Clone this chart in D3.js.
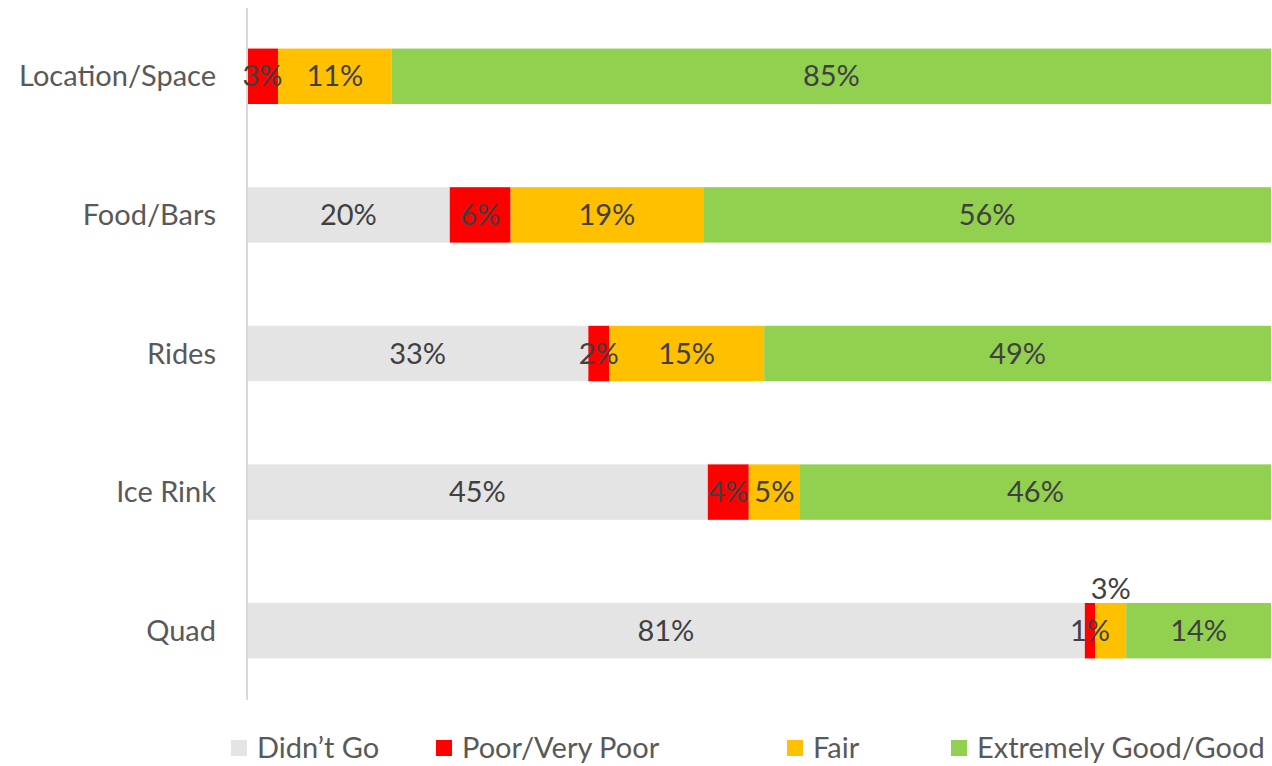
<!DOCTYPE html>
<html>
<head>
<meta charset="utf-8">
<script src="https://cdn.jsdelivr.net/npm/d3@7"></script>
<style>
  html, body { margin: 0; padding: 0; background: #fff; }
  svg { display: block; }
  text { font-family: "Lato", "Open Sans", sans-serif; }
</style>
</head>
<body>
<svg id="chart" width="1272" height="766"></svg>
<script>
// Survey ratings per attraction (percent of respondents)
const categories = ["Location/Space", "Food/Bars", "Rides", "Ice Rink", "Quad"];
const seriesNames = ["Didn't Go", "Poor/Very Poor", "Fair", "Extremely Good/Good"];
const legendLabels = ["Didn\u2019t Go", "Poor/Very Poor", "Fair", "Extremely Good/Good"];
const didntGo   = [0, 20, 33, 45, 81];
const poor      = [3, 6, 2, 4, 1];
const fair      = [11, 19, 15, 5, 3];
const good      = [85, 56, 49, 46, 14];
const colors = ["#E4E4E4", "#FF0000", "#FFC000", "#92D050"];

const series = [didntGo, poor, fair, good];
const fontSize = "29px";

const svg = d3.select("#chart");
const plotLeft = 247, plotRight = 1271, plotTop = 7, plotBottom = 700;

// rows are shown as 100% stacked bars
const rows = categories.map((c, i) => {
  const vals = series.map(s => s[i]);
  const total = d3.sum(vals);
  const obj = { category: c, total };
  seriesNames.forEach((k, j) => obj[k] = vals[j] / total);
  obj.raw = vals;
  return obj;
});

const stack = d3.stack().keys(seriesNames)(rows);

const x = d3.scaleLinear().domain([0, 1]).range([plotLeft, plotRight]);
const y = d3.scaleBand().domain(categories).range([plotTop, plotBottom]).paddingInner(0.6).paddingOuter(0.3);

// bars
const groups = svg.append("g").selectAll("g").data(stack).join("g")
  .attr("fill", (d, i) => colors[i]);
groups.selectAll("rect").data(d => d).join("rect")
  .attr("x", d => x(d[0]))
  .attr("y", d => y(d.data.category))
  .attr("width", d => x(d[1]) - x(d[0]))
  .attr("height", y.bandwidth());

// vertical category axis
const yAxis = svg.append("g").attr("transform", `translate(${plotLeft},0)`)
  .call(d3.axisLeft(y).tickSize(0).tickPadding(31));
yAxis.select(".domain").attr("stroke", "#D9D9D9").attr("stroke-width", 2)
  .attr("d", `M0,${plotTop + 1}V${plotBottom}`);
yAxis.selectAll(".tick text")
  .attr("fill", "#595959")
  .style("font-size", fontSize)
  .style("font-family", "Lato, 'Open Sans', sans-serif")
  .attr("dy", "0.35em");

// value labels; labels too narrow for their segment may be lifted above the bar
const lifted = { "Quad|Fair": true };
stack.forEach((s, si) => {
  s.forEach((d) => {
    const v = d.data.raw[si];
    if (v === 0) return;
    const cx = (x(d[0]) + x(d[1])) / 2;
    const key = d.data.category + "|" + s.key;
    const cy = lifted[key] ? y(d.data.category) - 14 : y(d.data.category) + y.bandwidth() / 2;
    svg.append("text")
      .attr("x", cx)
      .attr("y", cy)
      .attr("dy", "0.35em")
      .attr("text-anchor", "middle")
      .attr("fill", "#404040")
      .style("font-size", fontSize)
      .text(v + "%");
  });
});

// legend
const legendX = [231, 436, 787, 951];
const legend = svg.append("g");
legendLabels.forEach((lbl, i) => {
  const g = legend.append("g").attr("transform", `translate(${legendX[i]},740)`);
  g.append("rect").attr("width", 16).attr("height", 16).attr("fill", colors[i]);
  g.append("text").attr("x", 26).attr("y", 8).attr("dy", "0.35em")
    .attr("fill", "#595959").style("font-size", fontSize).text(lbl);
});
</script>
</body>
</html>
